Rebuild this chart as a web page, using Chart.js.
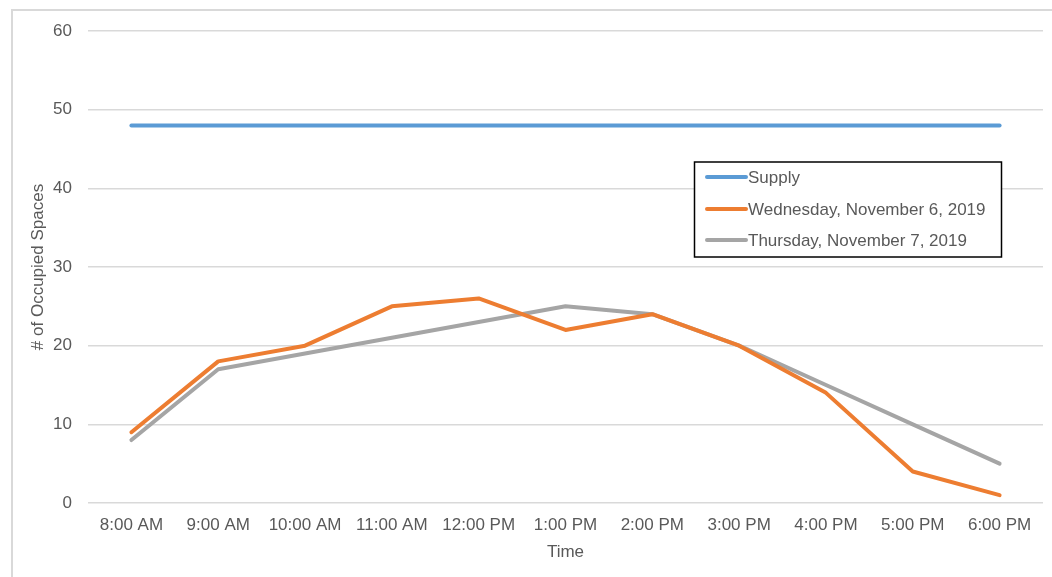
<!DOCTYPE html>
<html>
<head>
<meta charset="utf-8">
<script src="https://cdn.jsdelivr.net/npm/chart.js@4/dist/chart.umd.min.js"></script>
<style>
  html, body { margin: 0; padding: 0; background: #fff; overflow: hidden; }
  #frame { position: absolute; left: 11px; top: 9px; width: 1200px; height: 700px; border: 2px solid #d9d9d9; box-sizing: border-box; }
  #wrap { position: absolute; left: 0; top: 0; width: 1052px; height: 577px; }
</style>
</head>
<body>
<div id="frame"></div>
<div id="wrap"><canvas id="c" width="1052" height="577"></canvas></div>
<script>
const timeLabels = ['8:00 AM', '9:00 AM', '10:00 AM', '11:00 AM', '12:00 PM', '1:00 PM', '2:00 PM', '3:00 PM', '4:00 PM', '5:00 PM', '6:00 PM'];
const supply = [48, 48, 48, 48, 48, 48, 48, 48, 48, 48, 48];
const wednesday = [9, 18, 20, 25, 26, 22, 24, 20, 14, 4, 1];
const thursday = [8, 17, 19, 21, 23, 25, 24, 20, 15, 10, 5];
const seriesNames = ['Supply', 'Wednesday, November 6, 2019', 'Thursday, November 7, 2019'];
const seriesColors = ['#5B9BD5', '#ED7D31', '#A5A5A5'];
const yTicks = [0, 10, 20, 30, 40, 50, 60];

const FONT = '"Liberation Sans", Arial, sans-serif';
const TEXT = '#595959';

// Boxed legend drawn inside the plot area, upper right
const boxLegend = {
  id: 'boxLegend',
  afterDraw(chart) {
    const ctx = chart.ctx;
    const x0 = 694.5, y0 = 162, w = 307, h = 95;
    ctx.save();
    ctx.fillStyle = '#fff';
    ctx.fillRect(x0, y0, w, h);
    ctx.strokeStyle = '#000';
    ctx.lineWidth = 1.5;
    ctx.strokeRect(x0, y0, w, h);
    ctx.font = '17px ' + FONT;
    ctx.textBaseline = 'middle';
    ctx.fillStyle = TEXT;
    const rows = [177, 209, 240];
    chart.data.datasets.forEach((ds, i) => {
      ctx.strokeStyle = ds.borderColor;
      ctx.lineWidth = 4;
      ctx.lineCap = 'round';
      ctx.beginPath();
      ctx.moveTo(707, rows[i]);
      ctx.lineTo(746, rows[i]);
      ctx.stroke();
      ctx.fillText(ds.label, 748, rows[i] + 1);
    });
    ctx.restore();
  }
};

const makeSet = (label, data, color) => ({
  label, data,
  borderColor: color,
  backgroundColor: color,
  borderWidth: 4,
  pointRadius: 0,
  tension: 0,
  borderCapStyle: 'round',
  borderJoinStyle: 'round',
  fill: false
});

new Chart(document.getElementById('c'), {
  type: 'line',
  data: {
    labels: timeLabels,
    datasets: [
      makeSet(seriesNames[0], supply, seriesColors[0]),
      makeSet(seriesNames[1], wednesday, seriesColors[1]),
      makeSet(seriesNames[2], thursday, seriesColors[2])
    ]
  },
  options: {
    responsive: false,
    animation: false,
    layout: { padding: { left: 28, right: 9, top: 31, bottom: 14 } },
    plugins: {
      legend: { display: false },
      tooltip: { enabled: false }
    },
    scales: {
      x: {
        offset: true,
        grid: { display: false, drawTicks: false },
        border: { display: false },
        ticks: { color: TEXT, font: { family: FONT, size: 17 }, padding: 12, maxRotation: 0, autoSkip: false },
        title: { display: true, text: 'Time', color: TEXT, font: { family: FONT, size: 17 }, padding: { top: 4, bottom: 0 } },
        afterFit(scale) { scale.height = 60; }
      },
      y: {
        min: 0, max: 60,
        afterBuildTicks(scale) { scale.ticks = yTicks.map(v => ({ value: v })); },
        grid: { color: '#d9d9d9', lineWidth: 1.5, drawTicks: false },
        border: { display: false },
        ticks: { color: TEXT, font: { family: FONT, size: 17 }, padding: 16 },
        title: { display: true, text: '# of Occupied Spaces', color: TEXT, font: { family: FONT, size: 17 }, padding: { top: 0, bottom: 8 } },
        afterFit(scale) { scale.width = 60; }
      }
    }
  },
  plugins: [boxLegend]
});
</script>
</body>
</html>
